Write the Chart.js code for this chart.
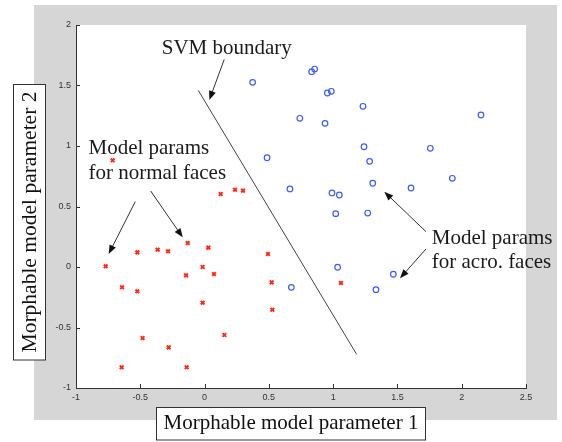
<!DOCTYPE html>
<html>
<head>
<meta charset="utf-8">
<script src="https://cdn.jsdelivr.net/npm/chart.js@4.4.1/dist/chart.umd.min.js"></script>
<style>
  html, body { margin: 0; padding: 0; background: #fff; }
  #wrap { width: 562px; height: 442px; }
</style>
</head>
<body>
<div id="wrap"><canvas id="chart" width="562" height="442"></canvas></div>
<script>
// normal faces (red x)
const normalX = [-0.715, 0.125, 0.237, 0.299, -0.769, -0.642, -0.523, -0.523, -0.365, -0.284,
                 -0.131, 0.029, -0.144, -0.015, 0.073, -0.015, 0.493, 0.522, 0.527, -0.482,
                 -0.279, 0.154, -0.645, -0.139, 1.061];
const normalY = [0.882, 0.603, 0.639, 0.631, 0.006, -0.168, -0.201, 0.121, 0.143, 0.130,
                 0.198, 0.160, -0.069, 0.000, -0.058, -0.295, 0.107, -0.127, -0.353, -0.587,
                 -0.664, -0.562, -0.829, -0.829, -0.132];

// acromegaly faces (blue o)
const acroX = [0.374, 0.486, 0.664, 0.741, 0.833, 0.856, 0.955, 0.986, 1.232, 0.937,
               2.150, 1.240, 1.756, 1.284, 1.308, 1.606, 1.927, 0.991, 1.048, 1.020,
               1.269, 1.035, 1.468, 1.333, 0.675];
const acroY = [1.526, 0.903, 0.645, 1.229, 1.614, 1.636, 1.438, 1.452, 1.328, 1.187,
               1.256, 0.994, 0.981, 0.873, 0.692, 0.653, 0.733, 0.612, 0.595, 0.441,
               0.446, -0.002, -0.060, -0.187, -0.168];

// SVM boundary end points
const svmX = [-0.049, 1.183];
const svmY = [1.46, -0.722];

const xTickLabels = ['-1', '-0.5', '0', '0.5', '1', '1.5', '2', '2.5'];
const yTickLabels = ['-1', '-0.5', '0', '0.5', '1', '1.5', '2'];

function toPoints(xs, ys) {
    return xs.map(function (x, i) { return {x: x, y: ys[i]}; });
}

function arrow(c, x1, y1, x2, y2) {
    var ang = Math.atan2(y2 - y1, x2 - x1), L = 9, W = 3.5;
    var cs = Math.cos(ang), sn = Math.sin(ang);
    c.beginPath();
    c.moveTo(x1, y1);
    c.lineTo(x2 - L * 0.7 * cs, y2 - L * 0.7 * sn);
    c.stroke();
    c.beginPath();
    c.moveTo(x2, y2);
    c.lineTo(x2 - L * cs + W * sn, y2 - L * sn - W * cs);
    c.lineTo(x2 - L * cs - W * sn, y2 - L * sn + W * cs);
    c.closePath();
    c.fill();
}

const decor = {
    id: 'decor',
    beforeDraw(chart) {
        const c = chart.ctx, a = chart.chartArea;
        c.save();
        c.fillStyle = '#fff';
        c.fillRect(0, 0, chart.width, chart.height);
        // gray figure background
        c.fillStyle = '#d6d6d6';
        c.fillRect(a.left - 42, a.top - 20, a.right - a.left + 73, a.bottom - a.top + 52);
        c.fillStyle = '#fff';
        c.fillRect(a.left, a.top, a.right - a.left, a.bottom - a.top);
        c.restore();
    },
    afterDraw(chart) {
        const c = chart.ctx, a = chart.chartArea;
        const xs = chart.scales.x, ys = chart.scales.y;
        const X = function (v) { return xs.getPixelForValue(v); };
        const Y = function (v) { return ys.getPixelForValue(v); };
        c.save();

        // inward tick marks
        c.strokeStyle = '#333';
        c.lineWidth = 1;
        c.beginPath();
        xs.ticks.forEach(function (t) {
            const p = Math.round(X(t.value)) + 0.5;
            c.moveTo(p, a.bottom); c.lineTo(p, a.bottom - 4);
        });
        ys.ticks.forEach(function (t) {
            const p = Math.round(Y(t.value)) + 0.5;
            c.moveTo(a.left, p); c.lineTo(a.left + 4, p);
        });
        c.stroke();

        // arrows
        c.strokeStyle = '#333';
        c.fillStyle = '#111';
        arrow(c, X(0.153), Y(1.716), X(0.037), Y(1.380));
        arrow(c, X(-0.539), Y(0.540), X(-0.746), Y(0.107));
        arrow(c, X(-0.419), Y(0.628), X(-0.170), Y(0.245));
        arrow(c, X(1.722), Y(0.292), X(1.398), Y(0.622));
        arrow(c, X(1.722), Y(0.149), X(1.520), Y(-0.093));

        // annotations
        c.fillStyle = '#1a1a1a';
        c.font = '21px "Liberation Serif"';
        c.textAlign = 'left';
        c.textBaseline = 'alphabetic';
        c.fillText('SVM boundary', X(-0.333), Y(1.758));
        c.fillText('Model params', X(-0.903), Y(0.930));
        c.fillText('for normal faces', X(-0.903), Y(0.930) + 24.5);
        c.fillText('Model params', X(1.767), Y(0.186));
        c.fillText('for acro. faces', X(1.767), Y(0.186) + 24);

        // axis titles in boxes
        c.strokeStyle = '#333';
        c.lineWidth = 1;
        c.fillStyle = '#fff';
        c.fillRect(156, 407.5, 270, 33);
        c.strokeRect(156.5, 407.5, 269, 32.5);
        c.fillRect(13.5, 84.5, 32, 275.5);
        c.strokeRect(13.5, 84.5, 32, 275.5);

        c.fillStyle = '#111';
        c.textAlign = 'center';
        c.fillText('Morphable model parameter 1', 291, 429);
        c.translate(36, 222);
        c.rotate(-Math.PI / 2);
        c.font = '21.5px "Liberation Serif"';
        c.fillText('Morphable model parameter 2', 0, 0);
        c.restore();
    }
};

var ctx = document.getElementById('chart').getContext('2d');
var chart = new Chart(ctx, {
    type: 'scatter',
    data: {
        datasets: [{
            label: 'normal',
            data: toPoints(normalX, normalY),
            pointStyle: 'crossRot',
            pointRadius: 2.6,
            borderColor: '#ff2a1a',
            borderWidth: 2
        }, {
            label: 'acro',
            data: toPoints(acroX, acroY),
            pointStyle: 'circle',
            pointRadius: 2.8,
            borderColor: '#3d5cff',
            backgroundColor: 'rgba(255,255,255,0)',
            borderWidth: 1.2
        }, {
            label: 'SVM boundary',
            data: toPoints(svmX, svmY),
            showLine: true,
            pointRadius: 0,
            borderColor: '#444',
            borderWidth: 1
        }]
    },
    options: {
        responsive: false,
        animation: false,
        events: [],
        layout: { padding: { left: 0, top: 25, right: 36, bottom: 0 } },
        plugins: {
            legend: { display: false },
            tooltip: { enabled: false }
        },
        scales: {
            x: {
                type: 'linear',
                min: -1, max: 2.5,
                afterFit: function (s) { s.height = 54; },
                grid: { display: false, drawTicks: false },
                border: { display: true, color: '#333', width: 1 },
                ticks: {
                    stepSize: 0.5,
                    padding: 4,
                    color: '#333',
                    font: { family: 'Liberation Sans', size: 9 },
                    maxRotation: 0,
                    callback: function (v, i) { return xTickLabels[i]; }
                }
            },
            y: {
                type: 'linear',
                min: -1, max: 2,
                afterFit: function (s) { s.width = 76; },
                grid: { display: false, drawTicks: false },
                border: { display: true, color: '#333', width: 1 },
                ticks: {
                    stepSize: 0.5,
                    padding: 5,
                    color: '#333',
                    font: { family: 'Liberation Sans', size: 9 },
                    callback: function (v, i) { return yTickLabels[i]; }
                }
            }
        }
    },
    plugins: [decor]
});
</script>
</body>
</html>
